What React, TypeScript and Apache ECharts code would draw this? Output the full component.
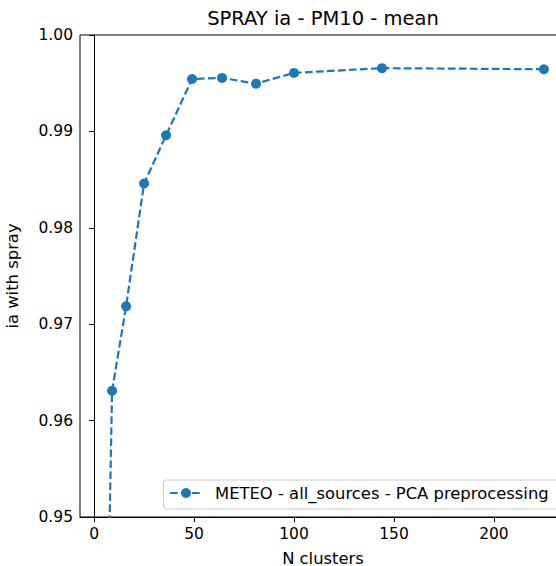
import React, { useEffect, useRef } from "react";
import * as echarts from "echarts";

const nClusters = [4, 9, 16, 25, 36, 49, 64, 81, 100, 144, 225];
const iaValues = [0.9083, 0.9631, 0.97185, 0.9846, 0.9896, 0.99544, 0.99555, 0.99495, 0.99607, 0.99656, 0.99645];
const xTicks = [0, 50, 100, 150, 200];
const titleText = "SPRAY ia - PM10 - mean";
const legendText = "METEO - all_sources - PCA preprocessing";

const FONT = "DejaVu Sans";
const BLUE = "#1f77b4";

export default function App() {
  const ref = useRef<HTMLDivElement>(null);
  useEffect(() => {
    if (!ref.current) return;
    const chart = echarts.init(ref.current, undefined, { renderer: "svg" });
    chart.setOption({
      animation: false,
      backgroundColor: "#ffffff",
      grid: {
        left: 80,
        top: 35,
        right: -10,
        bottom: 49,
        containLabel: false,
        outerBoundsMode: "none",
        show: true,
        borderColor: "#000",
        borderWidth: 1,
        backgroundColor: "transparent",
      },
      xAxis: {
        type: "value",
        min: -7.05,
        max: 236.05,
        name: "N clusters",
        nameLocation: "middle",
        nameGap: 33,
        nameTextStyle: { fontFamily: FONT, fontSize: 16.4, color: "#000" },
        splitLine: { show: false },
        axisLine: { show: true, onZero: false, lineStyle: { color: "#000", width: 1 } },
        axisTick: { show: true, length: 5, customValues: xTicks, lineStyle: { color: "#000" } },
        axisLabel: {
          customValues: xTicks,
          margin: 9,
          fontFamily: FONT,
          fontSize: 15.5,
          color: "#000",
        },
      },
      yAxis: {
        type: "value",
        min: 0.95,
        max: 1.0,
        interval: 0.01,
        name: "ia with spray",
        nameLocation: "middle",
        nameGap: 60,
        nameTextStyle: { fontFamily: FONT, fontSize: 16.4, color: "#000" },
        splitLine: { show: false },
        axisLine: { show: true, lineStyle: { color: "#000", width: 1 } },
        axisTick: { show: true, length: 5, lineStyle: { color: "#000" } },
        axisLabel: {
          margin: 7,
          fontFamily: FONT,
          fontSize: 15.5,
          color: "#000",
          formatter: (v: number) => v.toFixed(2),
        },
      },
      series: [
        {
          type: "line",
          data: nClusters.map((x, i) => [x, iaValues[i]]),
          symbol: "circle",
          symbolSize: 10,
          clip: true,
          lineStyle: { color: BLUE, width: 2.2, type: [7.7, 3.3] },
          itemStyle: { color: BLUE },
        },
      ],
      graphic: [
        {
          type: "text",
          x: 323,
          y: 18.5,
          z: 100,
          style: {
            text: titleText,
            fontFamily: FONT,
            fontSize: 19.5,
            fill: "#000",
            align: "center",
            verticalAlign: "middle",
          },
        },
        {
          type: "rect",
          z: 100,
          shape: { x: 163.5, y: 480, width: 400, height: 29, r: 3 },
          style: { fill: "rgba(255,255,255,0.8)", stroke: "#cccccc", lineWidth: 1 },
        },
        {
          type: "line",
          z: 101,
          shape: { x1: 170, y1: 493, x2: 202.5, y2: 493 },
          style: { stroke: BLUE, lineWidth: 2.2, lineDash: [7.7, 3.3] },
        },
        {
          type: "circle",
          z: 102,
          shape: { cx: 186, cy: 493, r: 5 },
          style: { fill: BLUE },
        },
        {
          type: "text",
          z: 102,
          x: 215,
          y: 493,
          style: {
            text: legendText,
            fontFamily: FONT,
            fontSize: 16.4,
            fill: "#000",
            align: "left",
            verticalAlign: "middle",
          },
        },
      ],
    });
    return () => chart.dispose();
  }, []);
  return (
    <div
      ref={ref}
      style={{ position: "absolute", left: 0, top: 0, width: 556, height: 566 }}
    />
  );
}
